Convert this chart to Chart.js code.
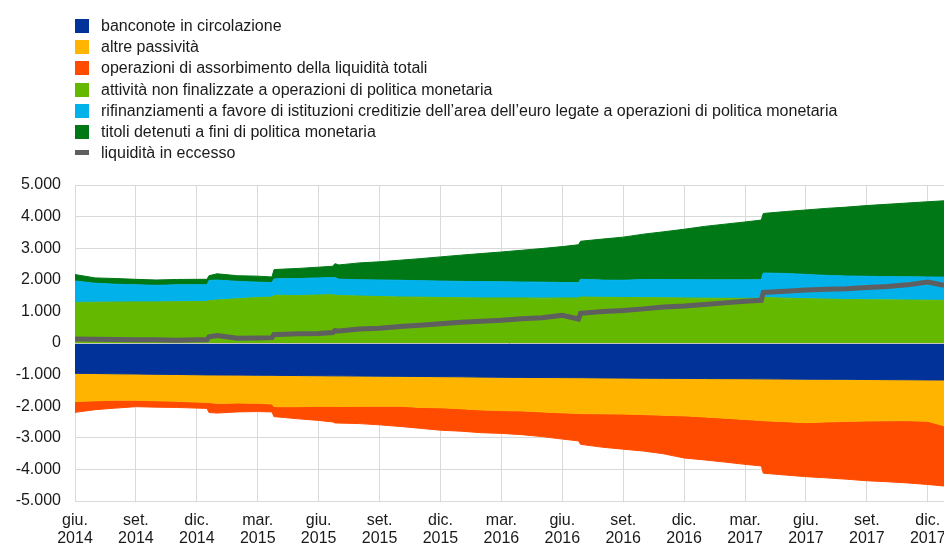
<!DOCTYPE html>
<html>
<head>
<meta charset="utf-8">
<script src="https://cdn.jsdelivr.net/npm/chart.js@4.4.0/dist/chart.umd.min.js"></script>
<style>
  html, body { margin: 0; padding: 0; overflow: hidden; background: #fff; }
  #wrap { position: absolute; left: 0; top: 0; width: 944px; height: 544px; }
  #legend { position: absolute; left: 75px; top: 15px; font: 16px 'Liberation Sans', Arial, sans-serif; color: #1a1a1a; z-index: 2; }
  .row { height: 21.2px; line-height: 21.2px; white-space: nowrap; position: relative; padding-left: 26px; }
  .sw { position: absolute; left: 0; }
</style>
</head>
<body>
<div id="wrap"><canvas id="c"></canvas></div>
<div id="legend"></div>
<script>
// x positions: months since 1 June 2014
const months = [0,1,2,3,4,5,6,6.5,6.6,7,8,9,9.7,9.8,10,11,12,12.7,12.8,13,14,15,16,17,18,19,20,21,22,23,24,24.8,24.9,26,27,28,29,30,31,32,33,33.8,33.9,35,36,37,38,39,40,41,42,42.8];

const banconote = [-960,-965,-975,-980,-990,-995,-1005,-1010,-1010,-1012,-1015,-1020,-1022,-1022,-1025,-1030,-1035,-1040,-1040,-1040,-1045,-1050,-1055,-1060,-1065,-1070,-1078,-1085,-1090,-1092,-1095,-1098,-1098,-1105,-1110,-1115,-1118,-1120,-1125,-1128,-1130,-1135,-1135,-1140,-1145,-1148,-1150,-1155,-1160,-1163,-1168,-1170];
const altrePassivita = [-895,-865,-835,-830,-840,-850,-865,-870,-875,-900,-885,-885,-910,-990,-990,-985,-970,-965,-970,-970,-960,-950,-945,-980,-985,-1010,-1040,-1055,-1060,-1090,-1115,-1130,-1135,-1135,-1140,-1150,-1170,-1185,-1215,-1250,-1290,-1315,-1325,-1350,-1375,-1350,-1330,-1315,-1300,-1295,-1310,-1450];
const operazioniAssorbimento = [-340,-280,-250,-205,-200,-195,-190,-190,-315,-305,-280,-265,-250,-320,-325,-385,-445,-495,-520,-525,-545,-590,-640,-660,-710,-710,-720,-720,-750,-780,-830,-870,-975,-1060,-1110,-1155,-1220,-1335,-1360,-1390,-1420,-1440,-1660,-1690,-1710,-1770,-1830,-1890,-1930,-1970,-2000,-1905];
const attivitaNonFinalizzate = [1285,1290,1295,1300,1300,1305,1310,1310,1340,1360,1400,1440,1450,1505,1510,1500,1520,1530,1510,1505,1485,1470,1455,1450,1440,1430,1425,1425,1425,1420,1425,1425,1455,1445,1440,1435,1430,1425,1420,1415,1415,1415,1440,1420,1400,1390,1375,1370,1365,1360,1355,1350];
const rifinanziamenti = [675,600,565,540,525,535,535,535,640,630,550,485,460,520,520,540,540,540,560,515,515,525,530,520,520,520,520,510,505,505,490,485,560,545,545,575,580,580,580,585,585,590,775,780,770,750,745,740,735,735,735,735];
const titoli = [205,170,180,175,165,170,170,170,150,200,180,190,180,295,300,320,340,360,440,450,535,575,635,700,765,830,885,945,1005,1065,1135,1200,1205,1300,1365,1435,1510,1595,1690,1760,1830,1885,1885,1960,2040,2120,2180,2240,2290,2335,2380,2415];
const liquiditaEccesso = [130,120,110,100,100,90,100,100,200,240,150,160,170,270,270,290,300,330,390,380,440,470,520,560,610,660,690,720,770,800,880,760,940,1000,1030,1080,1140,1170,1220,1270,1320,1350,1600,1640,1680,1700,1720,1760,1790,1840,1930,1830];

const tickMonths = ['giu.','set.','dic.','mar.','giu.','set.','dic.','mar.','giu.','set.','dic.','mar.','giu.','set.','dic.'];
const tickYears = ['2014','2014','2014','2015','2015','2015','2015','2016','2016','2016','2016','2017','2017','2017','2017'];

const labels = [
  'banconote in circolazione',
  'altre passività',
  'operazioni di assorbimento della liquidità totali',
  'attività non finalizzate a operazioni di politica monetaria',
  'rifinanziamenti a favore di istituzioni creditizie dell\u2019area dell\u2019euro legate a operazioni di politica monetaria',
  'titoli detenuti a fini di politica monetaria',
  'liquidità in eccesso'
];
const colors = ['#003299','#FFB400','#FF4B00','#65B800','#00B1EA','#007816','#5F5F5F'];

const pts = arr => months.map((m, i) => ({ x: m, y: arr[i] }));
function area(i, arr, fill) {
  return {
    label: labels[i], data: pts(arr), backgroundColor: colors[i], borderColor: colors[i],
    borderWidth: 1, pointRadius: 0, fill: fill, stack: 'areas', order: 1, tension: 0
  };
}
function fmt(v) { return String(v).replace(/\B(?=(\d{3})+(?!\d))/g, '.'); }

Chart.defaults.font.family = "'Liberation Sans', Arial, sans-serif";
Chart.defaults.font.size = 16;
Chart.defaults.color = '#1a1a1a';

const chart = new Chart(document.getElementById('c'), {
  type: 'line',
  data: {
    datasets: [
      area(0, banconote, 'origin'),
      area(1, altrePassivita, '-1'),
      area(2, operazioniAssorbimento, '-1'),
      area(3, attivitaNonFinalizzate, 'origin'),
      area(4, rifinanziamenti, '-1'),
      area(5, titoli, '-1'),
      { label: labels[6], data: pts(liquiditaEccesso), borderColor: colors[6], backgroundColor: colors[6],
        borderWidth: 5, pointRadius: 0, fill: false, stack: 'liq', order: 0, tension: 0 }
    ]
  },
  options: {
    responsive: true, maintainAspectRatio: false, animation: false,
    layout: { padding: { top: 185, left: 0, right: 0, bottom: 0 } },
    plugins: { legend: { display: false }, tooltip: { enabled: false } },
    scales: {
      x: {
        type: 'linear', min: 0, max: 42.8,
        grid: { color: '#d9d9d9', drawTicks: false },
        border: { color: '#d9d9d9' },
        ticks: {
          stepSize: 3, includeBounds: false, maxRotation: 0, autoSkip: false, padding: 10,
          font: { size: 16, lineHeight: 1.15 },
          callback: v => { const k = Math.round(v / 3); return [tickMonths[k], tickYears[k]]; }
        },
        afterFit: s => { s.height = 43; s.paddingLeft = 0; s.paddingRight = 0; }
      },
      y: {
        stacked: true, min: -5000, max: 5000,
        grid: { color: '#d9d9d9', drawTicks: false },
        border: { color: '#d9d9d9' },
        ticks: { stepSize: 1000, padding: 14, callback: v => fmt(v) },
        afterFit: s => { s.width = 75; }
      },
      y0: {
        position: 'right', min: -5000, max: 5000, display: true,
        grid: { z: 1, drawTicks: false, color: c => (c.tick && c.tick.value === 0) ? '#c4c4c4' : 'rgba(0,0,0,0)' },
        border: { display: false },
        ticks: { display: false, stepSize: 1000 },
        afterFit: s => { s.width = 0; }
      }
    }
  }
});

// HTML legend built from the chart's datasets
const lg = document.getElementById('legend');
chart.data.datasets.forEach((ds, i) => {
  const row = document.createElement('div');
  row.className = 'row';
  const sw = document.createElement('span');
  sw.className = 'sw';
  if (i === 6) {
    sw.style.cssText = 'left:0;top:8px;width:14px;height:5px;background:' + ds.borderColor;
  } else {
    sw.style.cssText = 'left:0;top:4px;width:14px;height:14px;background:' + ds.backgroundColor;
  }
  row.appendChild(sw);
  row.appendChild(document.createTextNode(ds.label));
  lg.appendChild(row);
});
</script>
</body>
</html>
